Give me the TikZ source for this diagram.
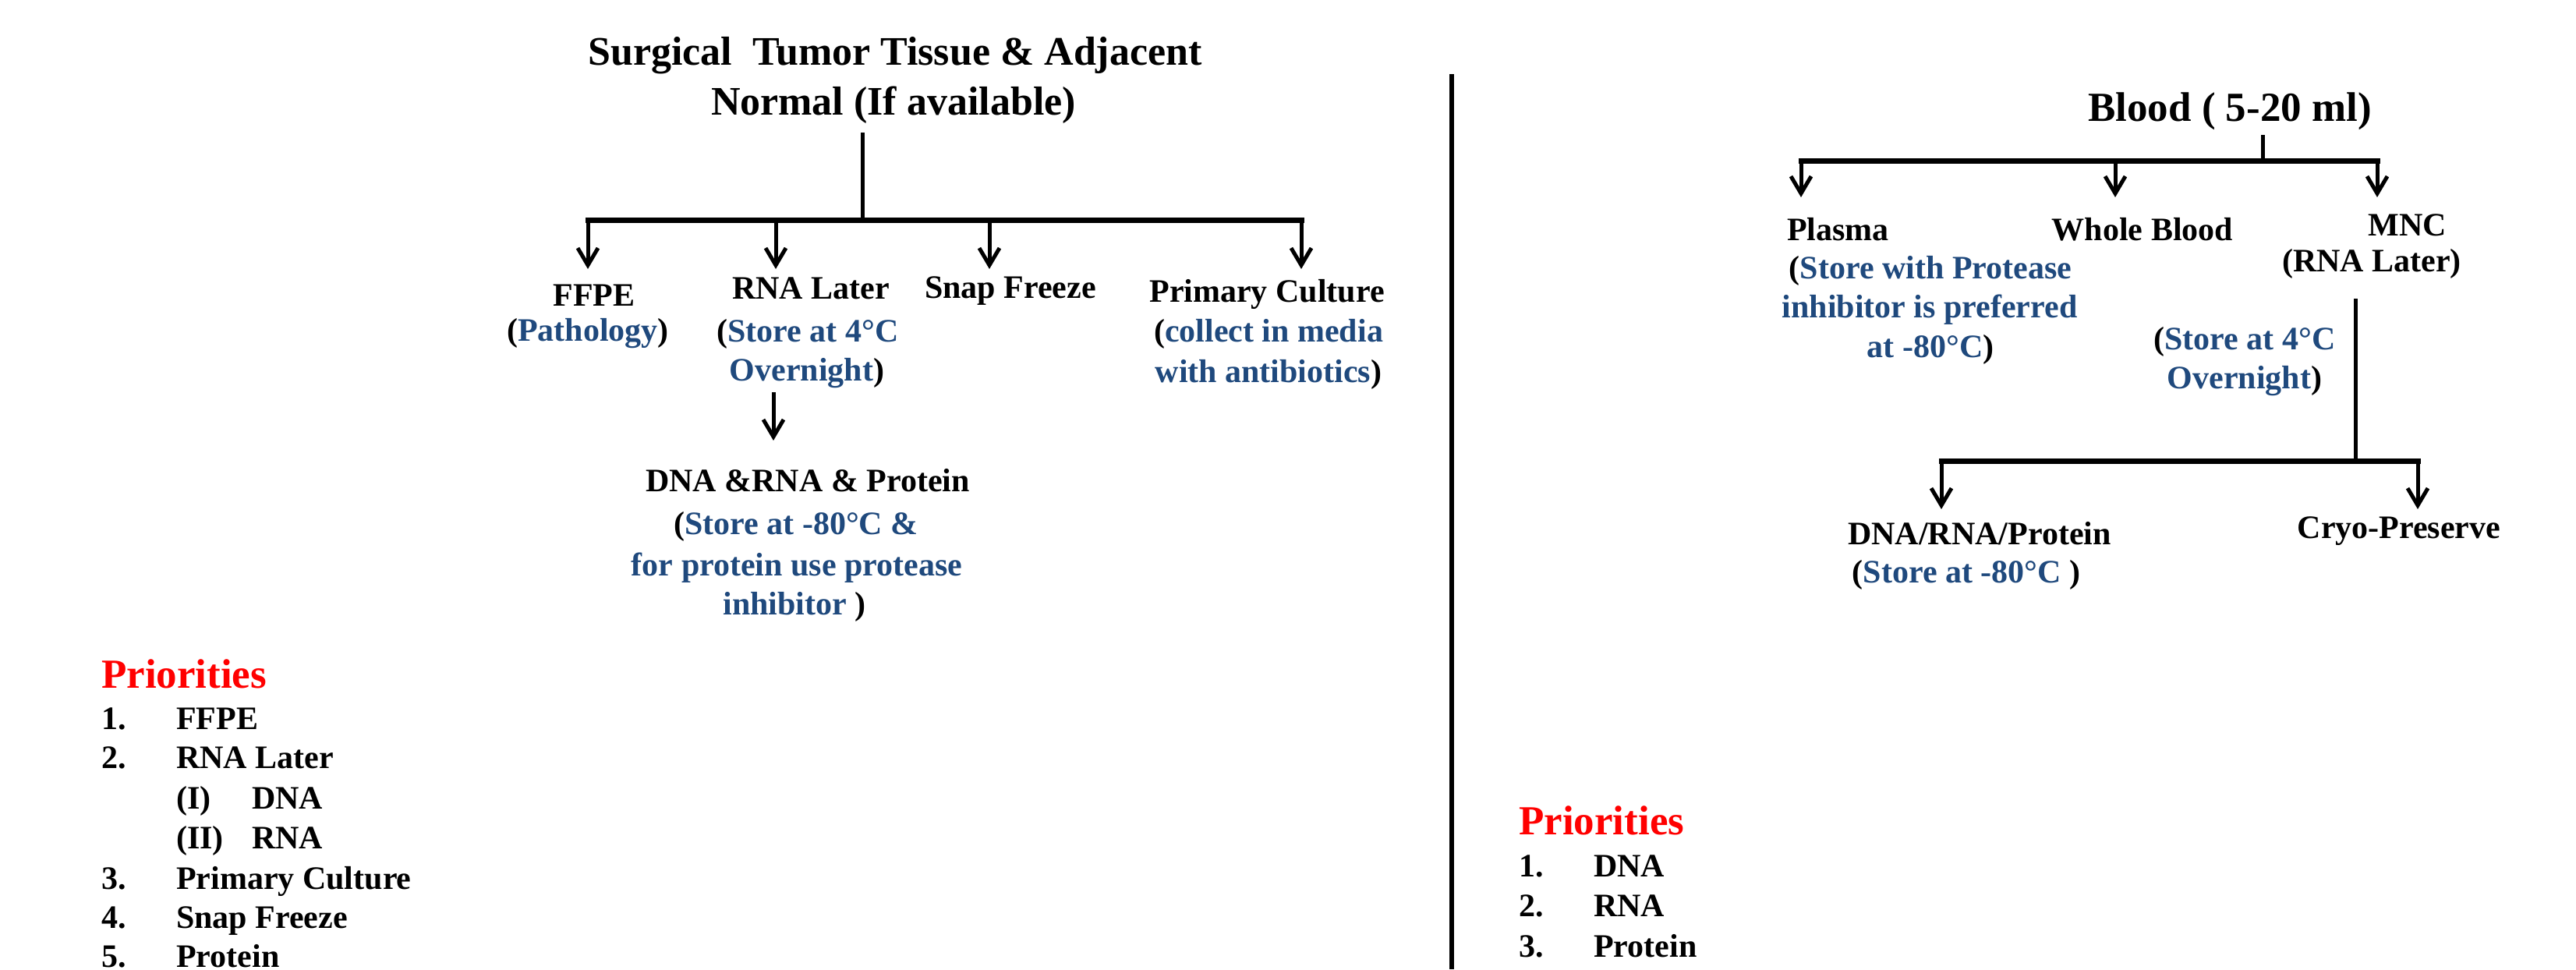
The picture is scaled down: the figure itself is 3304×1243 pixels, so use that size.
\documentclass[tikz,border=0pt]{standalone}
\usepackage{fontspec}
\setmainfont{Liberation Serif}
\usetikzlibrary{arrows.meta}
\definecolor{blu}{HTML}{1F497D}
\definecolor{pred}{HTML}{FF0000}
\newcommand\fbig{\fontsize{52}{62}\selectfont\bfseries}
\newcommand\fnorm{\fontsize{42}{50}\selectfont\bfseries}
\newcommand\fpri{\fontsize{53}{60}\selectfont\bfseries}
\newcommand\bl[1]{\textcolor{blu}{#1}}
\begin{document}
\begin{tikzpicture}[x=1pt,y=-1pt,
  lbl/.style={inner sep=0pt,anchor=base,font=\fnorm},
  lblw/.style={inner sep=0pt,anchor=base west,font=\fnorm},
  ttl/.style={inner sep=0pt,anchor=base,font=\fbig},
  pri/.style={inner sep=0pt,anchor=base west,font=\fpri,text=pred},
  conn/.style={line width=5pt},
  barline/.style={line width=7pt,line cap=rect},
  arr/.style={line width=5pt,-{Straight Barb[length=22pt,width=26pt]}},
  divider/.style={line width=6pt}]
\useasboundingbox (0,0) rectangle (3304,1243);
\fill[white] (0,0) rectangle (3304,1243);

% ---------------- Left tree ----------------
\node[ttl] (t1) at (1148,83) {Surgical\ \ Tumor Tissue \& Adjacent};
\node[ttl] (t2) at (1146,147) {Normal (If available)};
\coordinate (ls) at (1106,170);
\coordinate (lj) at (1106,282);
\coordinate (lb1) at (754,282);
\coordinate (lb2) at (995,282);
\coordinate (lb3) at (1269,282);
\coordinate (lb4) at (1669,282);
\coordinate (la1) at (754,345);
\coordinate (la2) at (995,345);
\coordinate (la3) at (1269,345);
\coordinate (la4) at (1669,345);
\draw[conn] (ls) -- (lj);
\draw[barline] (lb1) -- (lb4);
\draw[arr] (lb1) -- (la1);
\draw[arr] (lb2) -- (la2);
\draw[arr] (lb3) -- (la3);
\draw[arr] (lb4) -- (la4);

\node[lbl] (ffpe) at (762,392) {FFPE};
\node[lbl] (ffpe2) at (754,437) {(\bl{Pathology})};
\node[lbl] (rna) at (1040,383) {RNA Later};
\node[lbl] (rna2) at (1036,438) {(\bl{Store at 4°C}};
\node[lbl] (rna3) at (1035,488) {\bl{Overnight})};
\node[lbl] (snap) at (1296,382) {Snap Freeze};
\node[lbl] (prim) at (1625,387) {Primary Culture};
\node[lbl] (prim2) at (1627,438) {(\bl{collect in media}};
\node[lbl] (prim3) at (1627,490) {\bl{with antibiotics})};

\coordinate (ra1) at (992,503);
\coordinate (ra2) at (992,565);
\draw[arr] (ra1) -- (ra2);

\node[lbl] (dna) at (1036,630) {DNA \&RNA \& Protein};
\node[lbl] (dna2) at (1021,685) {(\bl{Store at -80°C \&}};
\node[lbl] (dna3) at (1022,738) {\bl{for protein use protease}};
\node[lbl] (dna4) at (1019,788) {\bl{inhibitor} )};

% ---------------- Left priorities ----------------
\node[pri] (lp) at (130,882) {Priorities};
\node[lblw] (lp1n) at (130,935) {1.};
\node[lblw] (lp1) at (226,935) {FFPE};
\node[lblw] (lp2n) at (130,985) {2.};
\node[lblw] (lp2) at (226,985) {RNA Later};
\node[lblw] (lp2an) at (226,1037) {(I)};
\node[lblw] (lp2a) at (323,1037) {DNA};
\node[lblw] (lp2bn) at (226,1088) {(II)};
\node[lblw] (lp2b) at (323,1088) {RNA};
\node[lblw] (lp3n) at (130,1140) {3.};
\node[lblw] (lp3) at (226,1140) {Primary Culture};
\node[lblw] (lp4n) at (130,1190) {4.};
\node[lblw] (lp4) at (226,1190) {Snap Freeze};
\node[lblw] (lp5n) at (130,1240) {5.};
\node[lblw] (lp5) at (226,1240) {Protein};

% ---------------- Divider ----------------
\coordinate (d1) at (1862,95);
\coordinate (d2) at (1862,1243);
\draw[divider] (d1) -- (d2);

% ---------------- Right tree ----------------
\node[ttl,font=\fpri] (blood) at (2860,155) {Blood ( 5-20 ml)};
\coordinate (bs) at (2902,173);
\coordinate (bj) at (2902,206);
\coordinate (bb1) at (2310,206);
\coordinate (bb2) at (2713,206);
\coordinate (bb3) at (3049,206);
\coordinate (ba1) at (2310,253);
\coordinate (ba2) at (2713,253);
\coordinate (ba3) at (3049,253);
\draw[conn] (bs) -- (bj);
\draw[barline] (bb1) -- (bb3);
\draw[arr] (bb1) -- (ba1);
\draw[arr] (bb2) -- (ba2);
\draw[arr] (bb3) -- (ba3);

\node[lblw] (plasma) at (2292,308) {Plasma};
\node[lbl] (pl2) at (2476,357) {(\bl{Store with Protease}};
\node[lbl] (pl3) at (2475,407) {\bl{inhibitor is preferred}};
\node[lbl] (pl4) at (2476,458) {\bl{at -80°C})};
\node[lbl] (whole) at (2748,308) {Whole Blood};
\node[lbl] (mnc) at (3088,302) {MNC};
\node[lbl] (mnc2) at (3042,348) {(RNA Later)};
\node[lbl] (mst) at (2879,448) {(\bl{Store at 4°C}};
\node[lbl] (mst2) at (2879,498) {\bl{Overnight})};

\coordinate (ms) at (3021,383);
\coordinate (mj) at (3021,591);
\coordinate (mb1) at (2490,591);
\coordinate (mb2) at (3101,591);
\coordinate (ma1) at (2490,653);
\coordinate (ma2) at (3101,653);
\draw[conn] (ms) -- (mj);
\draw[barline] (mb1) -- (mb2);
\draw[arr] (mb1) -- (ma1);
\draw[arr] (mb2) -- (ma2);

\node[lbl] (rdna) at (2539,698) {DNA/RNA/Protein};
\node[lbl] (rdna2) at (2522,747) {(\bl{Store at -80°C} )};
\node[lbl] (cryo) at (3077,690) {Cryo-Preserve};

% ---------------- Right priorities ----------------
\node[pri] (rp) at (1948,1070) {Priorities};
\node[lblw] (rp1n) at (1948,1124) {1.};
\node[lblw] (rp1) at (2044,1124) {DNA};
\node[lblw] (rp2n) at (1948,1175) {2.};
\node[lblw] (rp2) at (2044,1175) {RNA};
\node[lblw] (rp3n) at (1948,1227) {3.};
\node[lblw] (rp3) at (2044,1227) {Protein};
\end{tikzpicture}
\end{document}
